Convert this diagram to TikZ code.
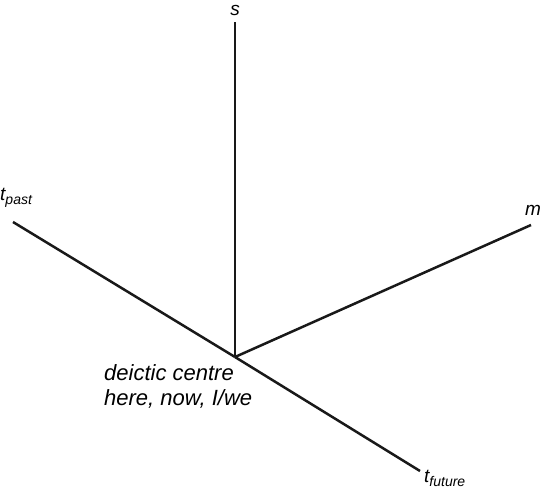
\documentclass[tikz,border=0pt]{standalone}
\usepackage{fontspec}
\setmainfont{Liberation Sans}
\newcommand{\subtxt}[1]{\raisebox{-4.5pt}{\fontsize{14}{14}\selectfont\itshape #1}}
\begin{document}
\begin{tikzpicture}[x=1pt,y=-1pt,
  axis/.style={line width=2.5pt,black!90},
  lbl/.style={font=\fontsize{19}{21}\selectfont\itshape,inner sep=0pt},
  txt/.style={font=\fontsize{22}{25}\selectfont\itshape,inner sep=0pt}]
\useasboundingbox (0,0) rectangle (544,488);
\coordinate (o) at (235,357);
\coordinate (se) at (235,22);
\coordinate (pe) at (13,222);
\coordinate (fe) at (420,471);
\coordinate (me) at (531,225);
\draw[axis] (o) -- (se);
\draw[axis] (o) -- (pe);
\draw[axis] (o) -- (fe);
\draw[axis] (o) -- (me);
\node[lbl,anchor=base] (s) at (235,15) {s};
\node[lbl,anchor=base west] (tp) at (0,200) {t\subtxt{past}};
\node[lbl,anchor=base west] (m) at (525,215) {m};
\node[lbl,anchor=base west] (tf) at (424,482) {t\subtxt{future}};
\node[txt,anchor=base west] (dc1) at (104,380) {deictic centre};
\node[txt,anchor=base west] (dc2) at (104,405) {here, now, I/we};
\end{tikzpicture}
\end{document}
